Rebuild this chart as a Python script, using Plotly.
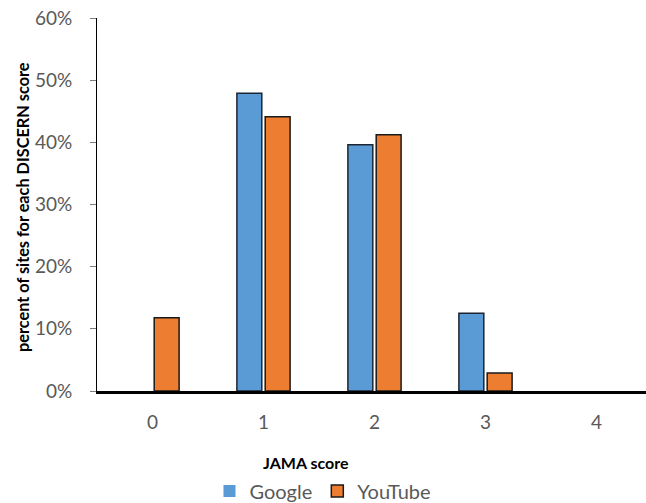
import plotly.graph_objects as go

# JAMA score distribution, percent of sites per score
jama_scores = ["0", "1", "2", "3", "4"]
google_pct = [0, 47.9, 39.6, 12.5, 0]
youtube_pct = [11.8, 44.1, 41.2, 2.9, 0]

tick_vals = [0, 10, 20, 30, 40, 50, 60]
tick_text = ["0%", "10%", "20%", "30%", "40%", "50%", "60%"]

FONT = "Lato, Carlito, Calibri, sans-serif"
GREY = "#595959"

# plot-area geometry in pixels
W, H = 646, 503
L, R, T, B = 97, 0, 18, 112
PH = H - T - B


def outline_widths(values):
    # no outline on empty bars so they vanish into the axis
    return [1.5 if v else 0 for v in values]


fig = go.Figure()
fig.add_trace(go.Bar(
    x=jama_scores, y=google_pct, name="Google",
    marker=dict(color="#5B9BD5",
                line=dict(color="#1c2530", width=outline_widths(google_pct))),
))
fig.add_trace(go.Bar(
    x=jama_scores, y=youtube_pct, name="YouTube",
    marker=dict(color="#ED7D31",
                line=dict(color="#1a1a1a", width=outline_widths(youtube_pct))),
))

fig.update_layout(
    width=W, height=H,
    margin=dict(l=L, r=R, t=T, b=B, autoexpand=False),
    paper_bgcolor="white", plot_bgcolor="white",
    barmode="group", bargap=0.49, bargroupgap=0.12,
    font=dict(family=FONT, color=GREY),
    showlegend=True,
    legend=dict(
        orientation="h", x=0.5, xanchor="center", xref="container",
        y=(H - 491) / H, yanchor="middle", yref="container",
        font=dict(family=FONT, size=20, color=GREY),
        traceorder="normal", itemwidth=30,
    ),
    annotations=[
        dict(text="<b>JAMA score</b>",
             x=(306 - L) / (W - L - R), y=(T + PH - 463) / PH,
             xref="paper", yref="paper", xanchor="center", yanchor="middle",
             showarrow=False, font=dict(family=FONT, size=16, color="black")),
        dict(text="<b>percent of sites for each DISCERN score</b>",
             x=(22 - L) / (W - L - R), y=(T + PH - 207) / PH,
             xref="paper", yref="paper", xanchor="center", yanchor="middle",
             textangle=-90, showarrow=False,
             font=dict(family=FONT, size=16.3, color="black")),
    ],
)

fig.update_xaxes(
    type="category", range=[-0.5, 4.446],
    showline=True, linecolor="black", linewidth=2.5,
    ticks="", showgrid=False, zeroline=False,
    tickfont=dict(family=FONT, size=19, color=GREY),
    ticklabelstandoff=12,
)
fig.update_yaxes(
    range=[0, 60], tickvals=tick_vals, ticktext=tick_text,
    showline=True, linecolor="black", linewidth=1,
    ticks="outside", ticklen=6, tickcolor="#7f7f7f",
    showgrid=False, zeroline=False,
    tickfont=dict(family=FONT, size=19, color=GREY),
    ticklabelstandoff=14,
)

fig.write_html("out.html")
